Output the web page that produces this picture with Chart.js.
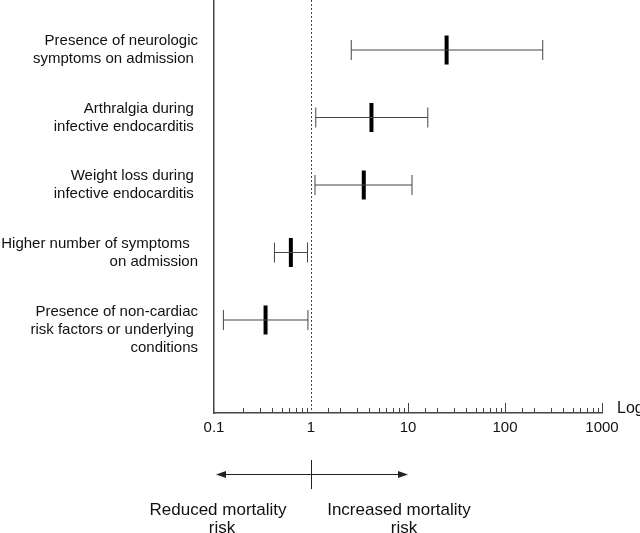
<!DOCTYPE html>
<html>
<head>
<meta charset="utf-8">
<script src="https://cdn.jsdelivr.net/npm/chart.js@4.4.1/dist/chart.umd.min.js"></script>
<style>
    html, body { margin: 0; padding: 0; background: #fff; }
    #wrap { width: 640px; height: 533px; }
</style>
</head>
<body>
<div id="wrap"><canvas id="forest"></canvas></div>
<script>
// Rows, top to bottom (trailing spaces kept as in the original layout)
const rowLabels = [
    ['Presence of neurologic', 'symptoms on admission '],
    ['Arthralgia during ', 'infective endocarditis '],
    ['Weight loss during ', 'infective endocarditis '],
    ['Higher number of symptoms  ', 'on admission'],
    ['Presence of non-cardiac', 'risk factors or underlying ', 'conditions']
];
const oddsRatio = [25, 4.2, 3.5, 0.62, 0.34];
const ciLower = [2.6, 1.12, 1.1, 0.42, 0.125];
const ciUpper = [245, 16, 11, 0.92, 0.93];

const xTickValues = [0.1, 1, 10, 100, 1000];
const xTickLabels = ['0.1', '1', '10', '100', '1000'];

const FONT = '"Liberation Sans", Arial, Helvetica, sans-serif';
const INK = '#111';
const LINE = '#444';

// points for the interval lines, broken between rows
const ciSegments = [];
const capPoints = [];
const estPoints = [];
rowLabels.forEach((_, i) => {
    ciSegments.push({ x: ciLower[i], y: i }, { x: ciUpper[i], y: i }, { x: ciUpper[i], y: null });
    capPoints.push({ x: ciLower[i], y: i }, { x: ciUpper[i], y: i });
    estPoints.push({ x: oddsRatio[i], y: i });
});

function isPow10(v) {
    const l = Math.log10(v);
    return Math.abs(l - Math.round(l)) < 1e-6;
}

// axis decorations: inward ticks, dotted line at 1, "Log", bottom arrows
const forestDecor = {
    id: 'forestDecor',
    beforeDatasetsDraw(chart) {
        const { ctx, chartArea, scales: { x } } = chart;
        const px = Math.round(x.getPixelForValue(1)) + 0.5;
        ctx.save();
        ctx.strokeStyle = LINE;
        ctx.lineWidth = 1;
        ctx.setLineDash([2, 2]);
        ctx.beginPath();
        ctx.moveTo(px, chartArea.top);
        ctx.lineTo(px, chartArea.bottom);
        ctx.stroke();
        ctx.restore();
    },
    afterDraw(chart) {
        const { ctx, chartArea, scales: { x } } = chart;
        const base = chartArea.bottom;
        ctx.save();
        ctx.strokeStyle = LINE;
        ctx.lineWidth = 1;
        x.ticks.forEach(t => {
            if (t.value <= x.min || t.value === 1) return;
            const p = Math.round(x.getPixelForValue(t.value)) + 0.5;
            const len = isPow10(t.value) ? 10 : 5;
            ctx.beginPath();
            ctx.moveTo(p, base);
            ctx.lineTo(p, base - len);
            ctx.stroke();
        });

        // "Log" next to the axis end
        ctx.fillStyle = INK;
        ctx.font = '16px ' + FONT;
        ctx.textAlign = 'left';
        ctx.textBaseline = 'middle';
        ctx.fillText('Log', chartArea.right + 15, base - 4);

        // direction arrows below the axis
        const p01 = x.getPixelForValue(0.1) + 2;
        const p1 = Math.round(x.getPixelForValue(1)) + 0.5;
        const p10 = x.getPixelForValue(10);
        const ay = 474.5;
        ctx.strokeStyle = '#222';
        ctx.beginPath();
        ctx.moveTo(p01 + 6, ay);
        ctx.lineTo(p10 - 6, ay);
        ctx.moveTo(p1, 460);
        ctx.lineTo(p1, 489);
        ctx.stroke();
        ctx.fillStyle = '#222';
        ctx.beginPath();
        ctx.moveTo(p01, ay);
        ctx.lineTo(p01 + 10, ay - 3.5);
        ctx.lineTo(p01 + 10, ay + 3.5);
        ctx.closePath();
        ctx.moveTo(p10, ay);
        ctx.lineTo(p10 - 10, ay - 3.5);
        ctx.lineTo(p10 - 10, ay + 3.5);
        ctx.closePath();
        ctx.fill();

        ctx.fillStyle = INK;
        ctx.font = '17px ' + FONT;
        ctx.textAlign = 'center';
        ctx.fillText('Reduced mortality', p01 + 2, 510);
        ctx.fillText('risk', p01 + 6, 528);
        ctx.fillText('Increased mortality', p10 - 9, 510);
        ctx.fillText('risk', p10 - 4, 528);
        ctx.restore();
    }
};

const chart = new Chart(document.getElementById('forest'), {
    type: 'scatter',
    data: {
        datasets: [
            {
                data: ciSegments,
                showLine: true,
                spanGaps: false,
                borderColor: LINE,
                borderWidth: 1,
                pointRadius: 0,
                clip: false
            },
            {
                data: capPoints,
                pointStyle: 'line',
                rotation: 90,
                radius: 10,
                borderColor: LINE,
                borderWidth: 1,
                clip: false
            },
            {
                data: estPoints,
                pointStyle: 'line',
                rotation: 90,
                radius: 14.5,
                borderColor: '#000',
                borderWidth: 4,
                clip: false
            }
        ]
    },
    options: {
        responsive: true,
        maintainAspectRatio: false,
        animation: false,
        events: [],
        layout: { autoPadding: false, padding: { left: 0, right: 38, top: 0, bottom: 0 } },
        plugins: {
            legend: { display: false },
            tooltip: { enabled: false }
        },
        scales: {
            x: {
                type: 'logarithmic',
                min: 0.1,
                max: 1000,
                afterFit: s => { s.height = 120; s.paddingLeft = 0; s.paddingRight = 0; },
                grid: { display: false, drawTicks: false },
                border: { display: true, color: LINE, width: 1.5 },
                ticks: {
                    autoSkip: false,
                    maxRotation: 0,
                    padding: 6,
                    color: INK,
                    font: { family: FONT, size: 15 },
                    callback: v => {
                        const i = xTickValues.findIndex(t => Math.abs(t - v) / t < 1e-6);
                        return i < 0 ? '' : xTickLabels[i];
                    }
                }
            },
            y: {
                type: 'linear',
                reverse: true,
                min: -0.741,
                max: 5.378,
                afterFit: s => { s.width = 214; s.paddingTop = 0; s.paddingBottom = 0; },
                afterBuildTicks: s => {
                    // three-line label sits a little lower, as in the original
                    s.ticks = rowLabels.map((l, i) => ({ value: i + (l.length > 2 ? 0.15 : 0) }));
                },
                grid: { display: false, drawTicks: false },
                border: { display: true, color: LINE, width: 1.5 },
                ticks: {
                    padding: 16,
                    color: INK,
                    font: { family: FONT, size: 15, lineHeight: 1.2 },
                    callback: (v, i) => rowLabels[i]
                }
            }
        }
    },
    plugins: [forestDecor]
});
</script>
</body>
</html>
